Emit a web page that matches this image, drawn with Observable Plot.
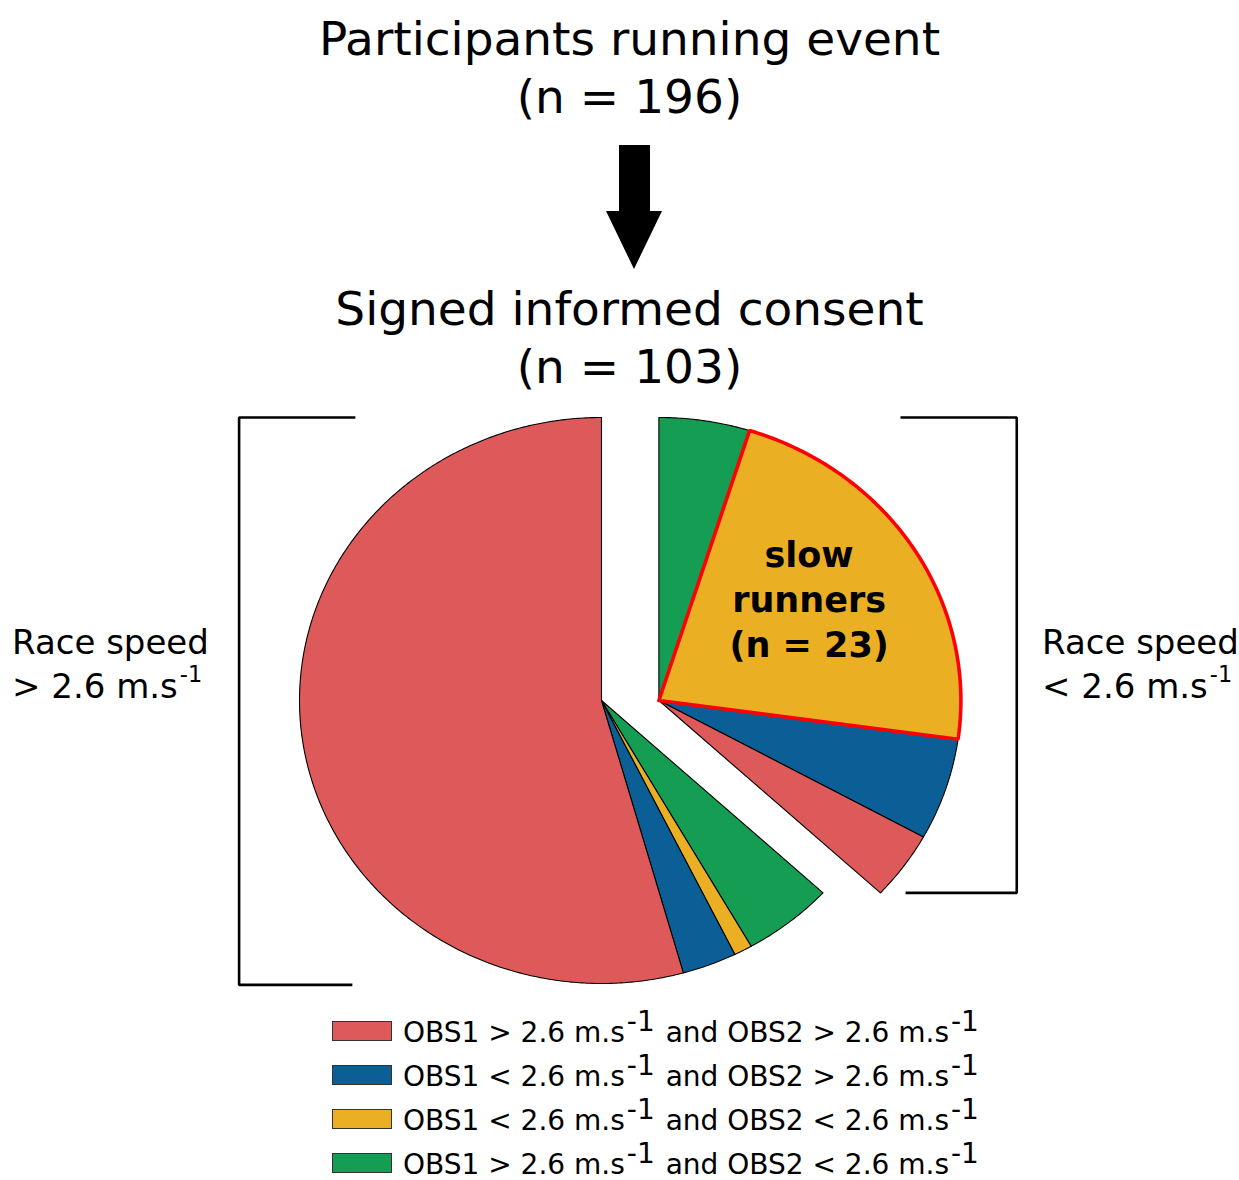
<!DOCTYPE html>
<html>
<head>
<meta charset="utf-8">
<script src="https://cdn.jsdelivr.net/npm/d3@7"></script>
<script src="https://cdn.jsdelivr.net/npm/@observablehq/plot@0.6"></script>
<style>
  body { margin: 0; background: #fff; font-family: "DejaVu Sans", sans-serif; color: #000; }
  #page { position: relative; width: 1239px; height: 1180px; overflow: hidden; }
  .title { position: absolute; left: 10px; width: 1239px; text-align: center; font-size: 47px; line-height: 58px; white-space: pre; }
  .side { position: absolute; font-size: 34px; line-height: 44px; white-space: nowrap; }
  .side sup { font-size: 0.66em; vertical-align: 0; position: relative; top: -0.7em; margin-left: 2px; }
  #chart { position: absolute; left: 0; top: 400px; }
  #arrow { position: absolute; left: 0; top: 0; }
  .lrow { position: absolute; left: 332px; height: 28px; white-space: nowrap; }
  .sw { position: absolute; left: 0; top: 2px; width: 58px; height: 18px; border: 1px solid #333; }
  .lt { position: absolute; left: 71px; top: 0; font-size: 28px; line-height: 28px; }
  .lt sup { font-size: 1em; vertical-align: 0; position: relative; top: -0.42em; margin-left: 2px; margin-right: 2px; }
</style>
</head>
<body>
<div id="page">
  <div class="title" id="t1" style="top:10px"></div>
  <svg id="arrow" width="1239" height="280"><polygon points="619,145 650,145 650,211 662,211 634,269 606,211 619,211" fill="#000"/></svg>
  <div class="title" id="t2" style="top:280px"></div>
  <div id="chart"></div>
  <div class="side" id="sideL" style="left:12px; top:620px"></div>
  <div class="side" id="sideR" style="left:1042px; top:620px"></div>
  <div id="legend"></div>
</div>
<script>
// ---------- data ----------
const totalParticipants = 196;
const categories = ["OBS1>,OBS2>", "OBS1<,OBS2>", "OBS1<,OBS2<", "OBS1>,OBS2<"];
const categoryColors = ["#de5a5a", "#0b5f96", "#ebaf24", "#169d54"];
const obs1Op = [">", "<", "<", ">"];
const obs2Op = [">", ">", "<", "<"];
const threshold = "2.6";
const groups = ["slow", "fast"];
const groupOp = ["<", ">"];
// slices clockwise from 12 o'clock
const sliceGroup = ["slow", "slow", "slow", "slow", "fast", "fast", "fast", "fast"];
const sliceCat   = [3, 2, 1, 0, 3, 2, 1, 0];
const sliceN     = [5, 23, 6, 4, 5, 1, 3, 56];
const highlightSlice = 1;
const highlightWords = ["slow", "runners"];

// ---------- layout ----------
const W = 1239, H = 600;
const cxPx = 601, cyPx = 300, rxPx = 302, ryPx = 283;
const explodeBy = {slow: 0.19, fast: 0};

const N = d3.sum(sliceN);
const cum = d3.cumsum(sliceN);
const slices = sliceN.map((n, i) => ({
  i, n, group: sliceGroup[i], cat: categories[sliceCat[i]],
  a0: (cum[i] - n) / N * 2 * Math.PI, a1: cum[i] / N * 2 * Math.PI
}));

const pts = [];
for (const s of slices) {
  const dx = explodeBy[s.group];
  pts.push({id: s.i, cat: s.cat, x: dx, y: 0});
  const steps = Math.max(2, Math.ceil((s.a1 - s.a0) / (2 * Math.PI) * 720));
  for (let k = 0; k <= steps; k++) {
    const a = s.a0 + (s.a1 - s.a0) * k / steps;
    pts.push({id: s.i, cat: s.cat, x: dx + Math.sin(a), y: Math.cos(a)});
  }
  pts.push({id: s.i, cat: s.cat, x: dx, y: 0});
}

// brackets derived from the group geometry
const slowEnd = d3.max(slices.filter(s => s.group === "slow"), s => s.a1);
const gapB = 0.2, arm = 0.385;
const bracketPts = [
  {b: "fast", x: -1 - gapB + arm, y: 1},
  {b: "fast", x: -1 - gapB, y: 1},
  {b: "fast", x: -1 - gapB, y: -1.005},
  {b: "fast", x: -1 - gapB + arm - 0.01, y: -1.005},
  {b: "slow", x: explodeBy.slow + 1 + gapB - 0.015 - arm, y: 1.0},
  {b: "slow", x: explodeBy.slow + 1 + gapB - 0.015, y: 1.0},
  {b: "slow", x: explodeBy.slow + 1 + gapB - 0.015, y: Math.cos(slowEnd)},
  {b: "slow", x: explodeBy.slow + 1 + gapB - 0.015 - arm + 0.017, y: Math.cos(slowEnd)}
];

const hs = slices[highlightSlice];
const mid = (hs.a0 + hs.a1) / 2;
const labelR = 0.62;
const labelData = [{
  x: explodeBy[hs.group] + labelR * Math.sin(mid),
  y: labelR * Math.cos(mid),
  text: `${highlightWords[0]}\n${highlightWords[1]}\n(n = ${hs.n})`
}];

const chart = Plot.plot({
  width: W, height: H,
  margin: 0,
  x: {domain: [-cxPx / rxPx, (W - cxPx) / rxPx], axis: null},
  y: {domain: [-(H - cyPx) / ryPx, cyPx / ryPx], axis: null},
  color: {domain: categories, range: categoryColors},
  style: {fontFamily: "DejaVu Sans", overflow: "visible", background: "transparent"},
  marks: [
    Plot.line(pts, {x: "x", y: "y", z: "id", fill: "cat", stroke: "black", strokeWidth: 1.1, strokeLinejoin: "round", curve: "linear"}),
    Plot.line(pts.filter(d => d.id === highlightSlice), {x: "x", y: "y", stroke: "#ff0000", strokeWidth: 3.6, strokeLinejoin: "miter", curve: "linear"}),
    Plot.line(bracketPts, {x: "x", y: "y", z: "b", stroke: "black", strokeWidth: 2.6, strokeLinejoin: "miter", strokeLinecap: "butt"}),
    Plot.text(labelData, {x: "x", y: "y", text: "text", fontSize: 35, fontWeight: "bold", lineHeight: 1.28, dx: -8, dy: -9, fill: "black"})
  ]
});
document.getElementById("chart").appendChild(chart);

// ---------- texts ----------
const esc = s => s === ">" ? "&gt;" : "&lt;";
document.getElementById("t1").textContent = `Participants running event\n(n = ${totalParticipants})`;
document.getElementById("t2").textContent = `Signed informed consent\n(n = ${N})`;
document.getElementById("sideL").innerHTML = `Race speed<br>${esc(groupOp[1])} ${threshold} m.s<sup>-1</sup>`;
document.getElementById("sideR").innerHTML = `Race speed<br>${esc(groupOp[0])} ${threshold} m.s<sup>-1</sup>`;

const legend = document.getElementById("legend");
categories.forEach((c, i) => {
  const row = document.createElement("div");
  row.className = "lrow";
  const baseline = 1043 + 44 * i;
  row.style.top = (baseline - 23.7) + "px";
  row.innerHTML = `<div class="sw" style="background:${categoryColors[i]}"></div>` +
    `<div class="lt">OBS1 ${esc(obs1Op[i])} ${threshold} m.s<sup>-1</sup> and OBS2 ${esc(obs2Op[i])} ${threshold} m.s<sup>-1</sup></div>`;
  legend.appendChild(row);
});
</script>
</body>
</html>
